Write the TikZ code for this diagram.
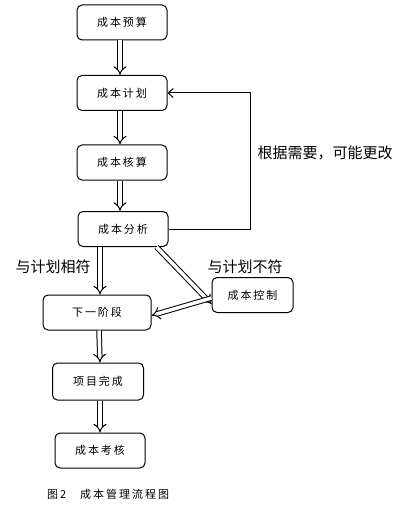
\documentclass[tikz,border=0pt]{standalone}
\usepackage{fontspec}
\setmainfont{Noto Sans CJK SC}[LetterSpace=18]
\newfontfamily\lblfont{Noto Sans CJK SC}
\usetikzlibrary{arrows.meta}

\tikzset{
  box/.style={draw,line width=1pt,rounded corners=5pt,minimum height=35pt,
    font=\fontsize{11}{11}\selectfont,inner sep=0pt},
  blk/.style={double,double distance=3.5pt,line width=1pt,-{Implies[length=5pt,width=10pt]}},
  lbl/.style={font=\lblfont\fontsize{15}{15}\selectfont,inner sep=0pt}
}

\begin{document}
\begin{tikzpicture}[x=1pt,y=-1pt]
        \useasboundingbox (0,0) rectangle (401,505);

        % Main column.
        \node[box,minimum width=90pt] (yusuan) at (122,22.5) {成本预算};
        \node[box,minimum width=90pt] (jihua) at (122,93) {成本计划};
        \node[box,minimum width=90pt] (hesuan) at (122,162.5) {成本核算};
        \node[box,minimum width=90pt] (fenxi) at (123,229) {成本分析};
        \node[box,minimum width=108pt] (xiayi) at (97,312.5) {下一阶段};
        \node[box,minimum width=81pt] (kongzhi) at (252.5,295) {成本控制};
        \node[box,minimum width=91pt,minimum height=37pt] (wancheng) at (98,381.5) {项目完成};
        \node[box,minimum width=90pt] (kaohe) at (100,450.5) {成本考核};

        % Block arrows.
        \draw[blk] ([xshift=-2pt]yusuan.south) -- ([xshift=-2pt]jihua.north);
        \draw[blk] ([xshift=-2pt]jihua.south) -- ([xshift=-2pt]hesuan.north);
        \draw[blk] ([xshift=-2pt]hesuan.south) -- ([xshift=-3pt]fenxi.north);
        \draw[blk] ([xshift=3pt]xiayi.north |- fenxi.south) -- ([xshift=3pt]xiayi.north);
        \draw[blk] ([xshift=2pt]xiayi.south) -- ([xshift=2pt]wancheng.north);
        \draw[blk] ([xshift=2pt]wancheng.south) -- (kaohe.north);
        \draw[blk] ([xshift=-12pt]fenxi.south east) -- ([yshift=-9pt]kongzhi.west);
        \draw[blk] ([yshift=-3pt]kongzhi.west) -- ([yshift=-3pt]xiayi.east);

        % Feedback loop.
        \coordinate (fb) at (250,0);
        \draw[line width=1pt,-{Straight Barb[length=5pt,width=9pt]}]
          (fenxi.east) -- (fenxi.east -| fb) -- (jihua.east -| fb) -- (jihua.east);

        % Labels.
        \node[lbl] (gengai) at (325,153) {根据需要，可能更改};
        \node[lbl] (xiangfu) at (53,267) {与计划相符};
        \node[lbl] (bufu) at (245,267) {与计划不符};

        % Caption.
        \node[anchor=west,font=\fontsize{11}{11}\selectfont,inner sep=0pt] (tu) at (47,494) {图\,2\hspace{14pt}成本管理流程图};
    \end{tikzpicture}
\end{document}
